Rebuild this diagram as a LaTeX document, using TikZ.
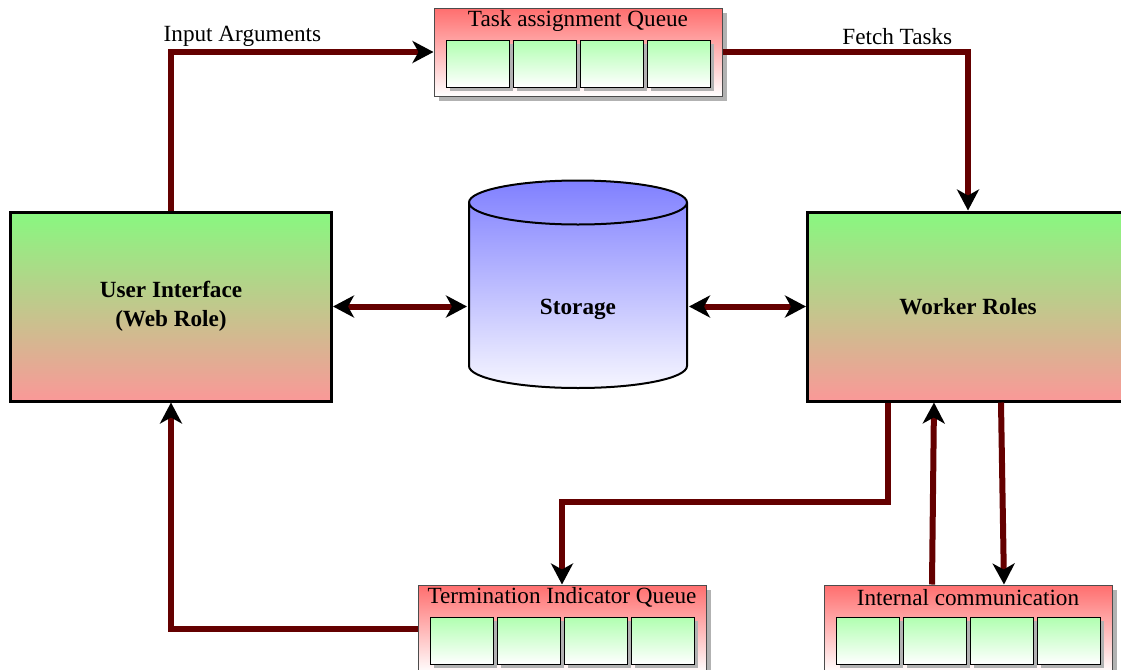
\documentclass[tikz,border=0pt]{standalone}
\usepackage{fontspec}
\setmainfont{Liberation Serif}
\usetikzlibrary{arrows.meta,calc,shadows}

\definecolor{linkred}{RGB}{100,0,0}
\definecolor{roleTop}{RGB}{136,248,128}
\definecolor{roleBot}{RGB}{250,152,152}
\definecolor{storeTop}{RGB}{128,128,255}
\definecolor{storeBot}{RGB}{246,246,255}
\definecolor{queueTop}{RGB}{255,110,110}
\definecolor{cellTop}{RGB}{176,255,176}

% a queue: frame with a title and four slots
\newcommand{\qbox}[4]{%
  \node[queue] (#1) at (#2,#3) {};
  \node (#1-t) at ($(#1.north)+(0,13)$) {#4};
  \foreach \i/\dx in {1/-100.5,2/-33.5,3/33.5,4/100.5}
    \node[qcell] (#1-c\i) at ($(#1.center)+(\dx,11.5)$) {};
}

\begin{document}
\begin{tikzpicture}[x=0.5pt,y=-0.5pt,
  every node/.style={font=\fontsize{11.6}{14.5}\selectfont},
  role/.style={draw=black, line width=1.5pt, top color=roleTop, bottom color=roleBot,
    minimum width=160.5pt, minimum height=94.5pt, inner sep=0pt, align=center,
    font=\fontsize{11.6}{14.5}\selectfont\bfseries},
  queue/.style={draw=black!70, line width=0.5pt, top color=queueTop, bottom color=white,
    minimum width=144pt, minimum height=44pt, inner sep=0pt,
    drop shadow={shadow xshift=2.5pt, shadow yshift=-2.5pt, fill=black!30, opacity=1}},
  qcell/.style={draw=black, line width=0.5pt, top color=cellTop, bottom color=white,
    minimum width=31.5pt, minimum height=23.5pt, inner sep=0pt,
    drop shadow={shadow xshift=2pt, shadow yshift=-2pt, fill=black!30, opacity=1}},
  conn/.style={draw=linkred, line width=3pt,
    >={Stealth[length=10.5pt,width=11pt,inset=3pt,color=black]}},
]
\useasboundingbox (0,0) rectangle (1121,670);

% roles
\node[role] (ui) at (171,306.5) {User Interface\\(Web Role)};
\node[role] (wr) at (968,306.5) {Worker Roles};

% storage cylinder
\path[draw=black, line width=1pt, top color=storeTop, bottom color=storeBot]
  (469,202.5) -- (469,366)
  arc[start angle=180, end angle=360, x radius=54.5pt, y radius=11pt]
  -- (687,202.5)
  arc[start angle=0, end angle=180, x radius=54.5pt, y radius=11pt] -- cycle;
\draw[line width=1pt] (469,202.5)
  arc[start angle=180, end angle=360, x radius=54.5pt, y radius=11pt];
\node[minimum width=109pt, minimum height=80pt, inner sep=0pt, outer sep=1pt,
  text depth=0pt, font=\fontsize{11.6}{14.5}\selectfont\bfseries] (st) at (578,306.5) {Storage};

% queues
\qbox{tq}{578}{52}{Task assignment Queue}
\qbox{tiq}{562}{629}{Termination Indicator Queue}
\qbox{icq}{968}{629}{Internal communication}

% connectors
\draw[conn,->] (ui.north) |- (tq.west) node[pos=0.636, above, yshift=-2pt] {Input Arguments};
\draw[conn,->] (tq.east) -| (wr.north) node[pos=0.356, above, yshift=-1pt] {Fetch Tasks};
\draw[conn,<->] (ui.east) -- (st.west);
\draw[conn,<->] (st.east) -- (wr.west);
\draw[conn,->] ([xshift=-40pt]wr.south) -- ++(0,99) -| (tiq.north);
\draw[conn,->] (tiq.west) -| (ui.south);
\draw[conn,->] ([xshift=-18pt]icq.north) -- ([xshift=-17pt]wr.south);
\draw[conn,->] ([xshift=16.5pt]wr.south) -- ([xshift=18pt]icq.north);
\end{tikzpicture}
\end{document}
